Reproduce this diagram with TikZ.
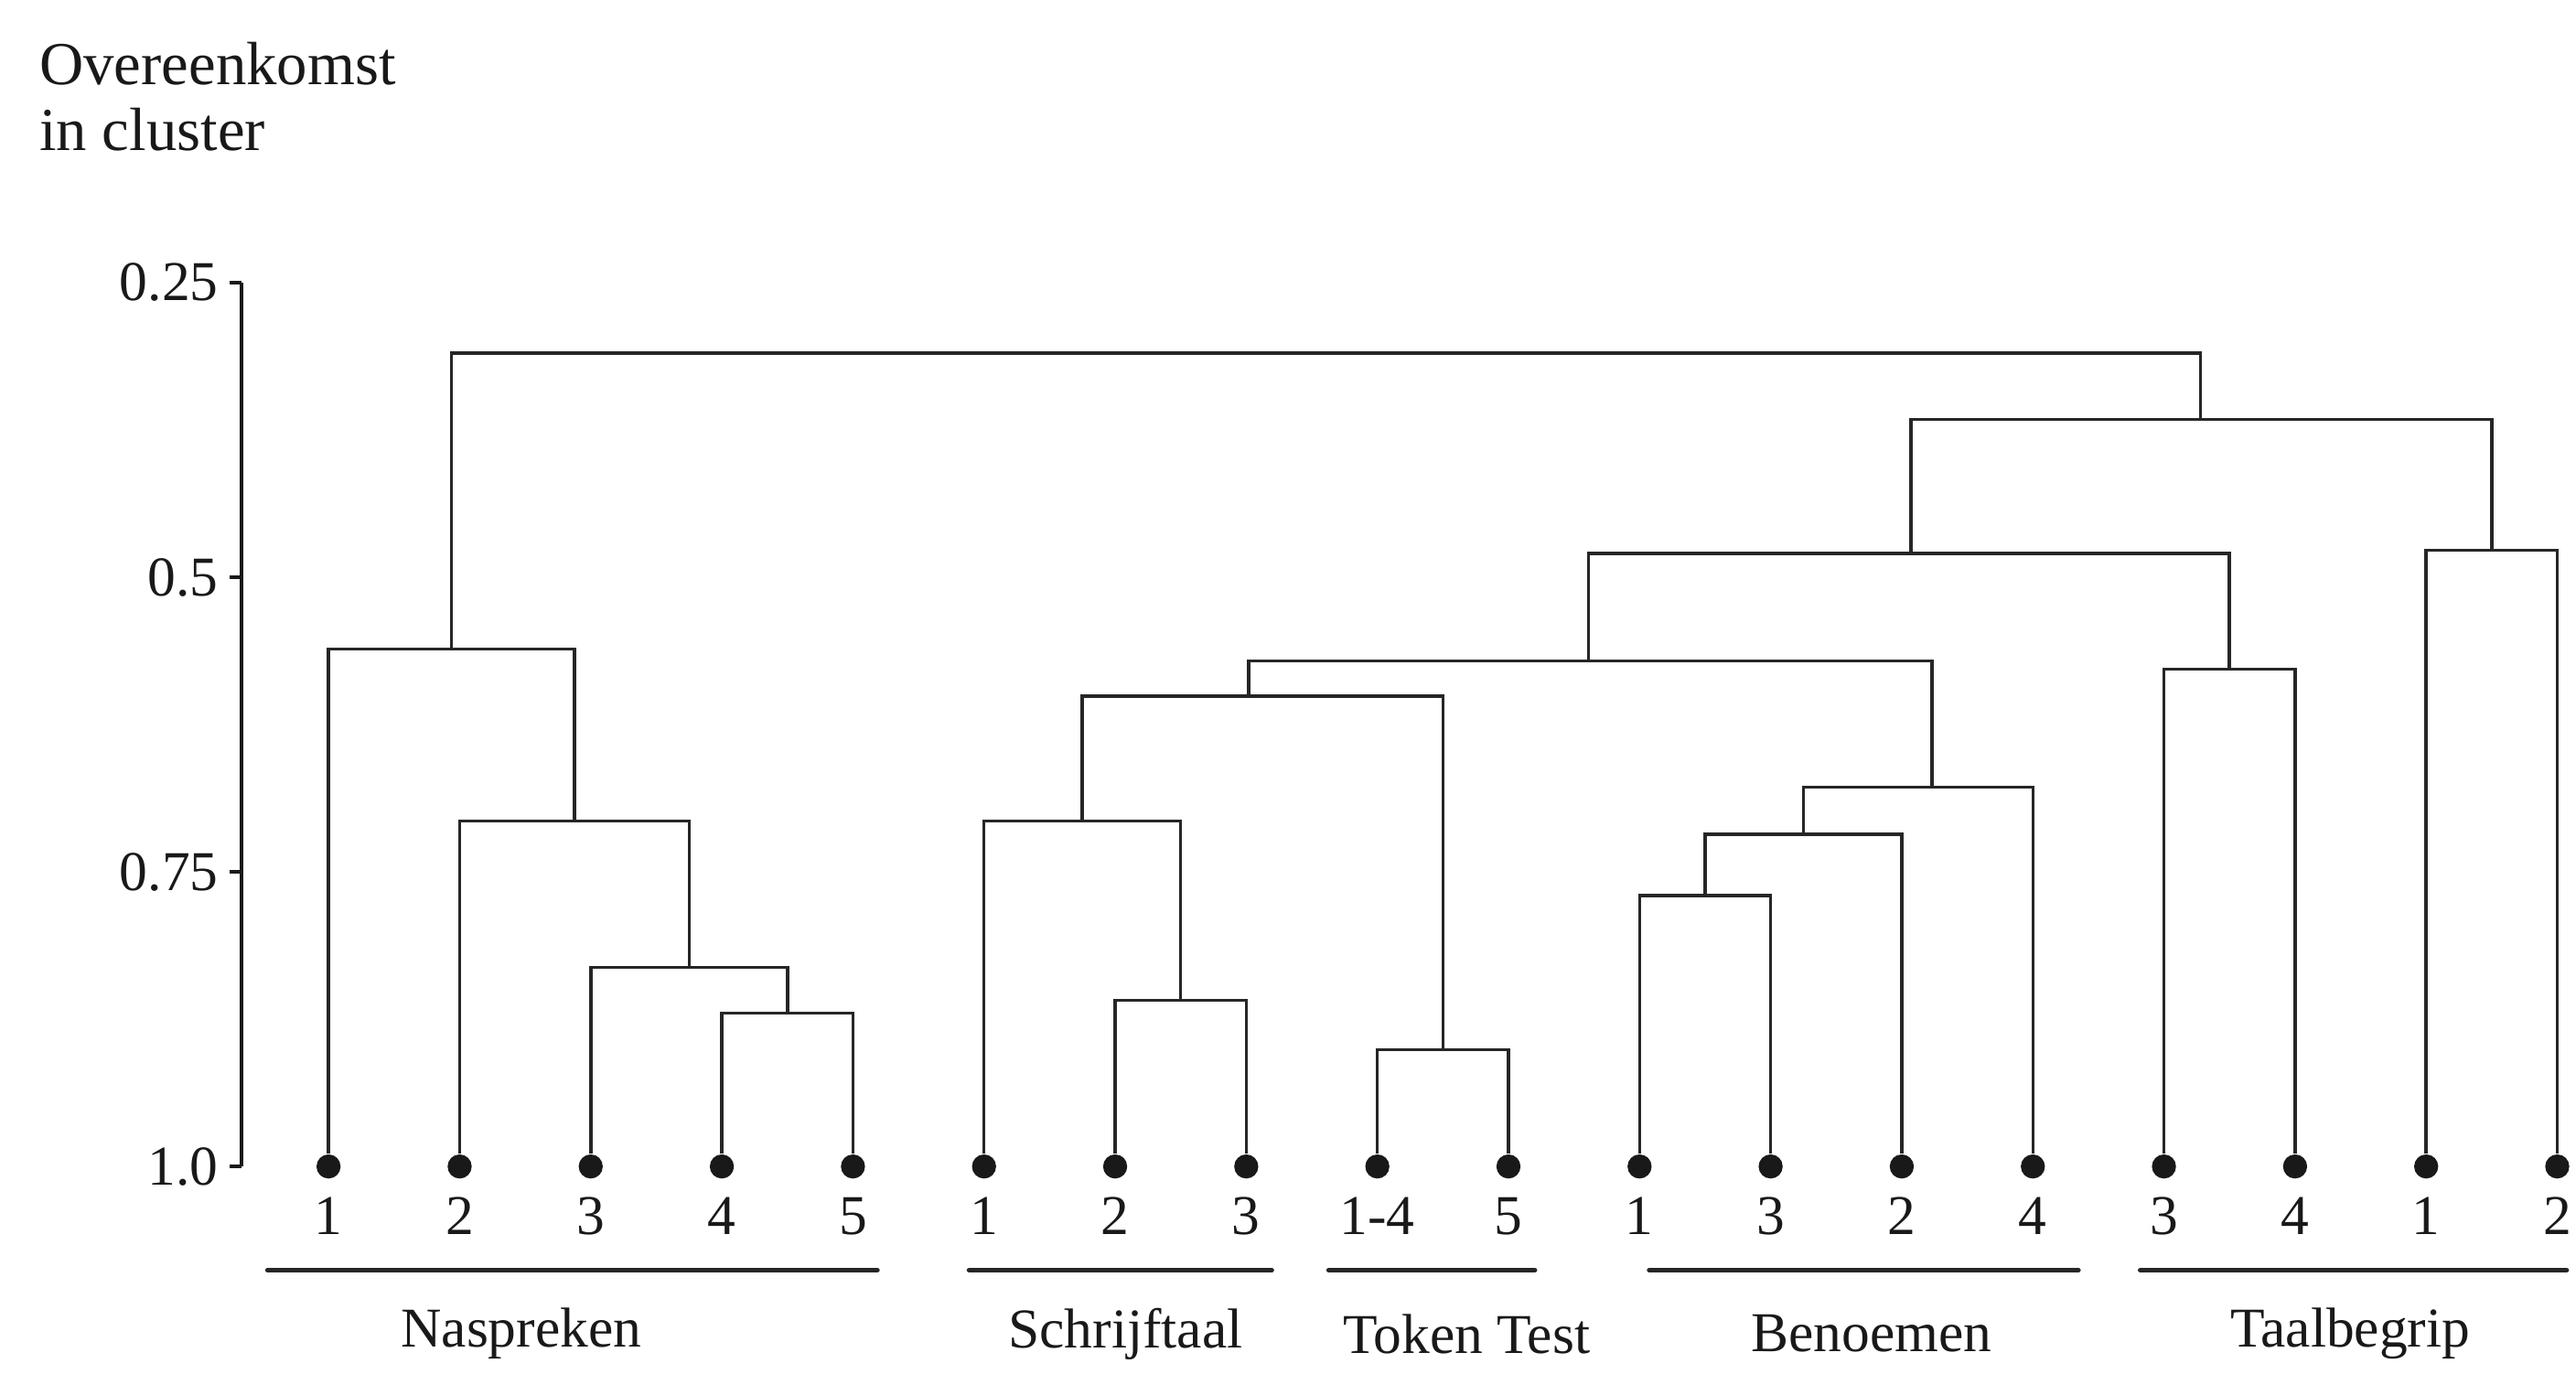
\documentclass[tikz,border=0pt]{standalone}
\usepackage{fontspec}
\setmainfont{Liberation Serif}
\begin{document}
\begin{tikzpicture}[x=1.4332cm,y=-12.883cm]
        \tikzset{
          leaf/.style={circle,fill=black!90,inner sep=0pt,minimum size=7.5pt},
          branch/.style={black!85,line width=1pt},
          lab/.style={font=\fontsize{17.5}{20}\selectfont,text=black!90},
          groupline/.style={black!85,line width=1.6pt,line cap=round},
        }
        \useasboundingbox (-2.506,0.0102) rectangle (17.143,1.1756);

        %TITLE
        \node[anchor=west,align=left,font=\fontsize{19}{20.5}\selectfont,text=black!90] (title) at (-2.29,0.092) {Overeenkomst\\in cluster};

        %AXIS Y
        \draw[black!90,line width=1.1pt] (-0.664,0.25) -- (-0.664,1.0);
        \foreach \v in {0.25,0.5,0.75,1.0}
          \draw[black!90,line width=1.1pt] (-0.664,\v) -- ++(-0.09,0) node[lab,anchor=east,inner sep=3pt] (tick\v) {\v};

        %LEAVES
        \node[leaf] (na1) at (0,1) {};
        \node[leaf] (na2) at (1,1) {};
        \node[leaf] (na3) at (2,1) {};
        \node[leaf] (na4) at (3,1) {};
        \node[leaf] (na5) at (4,1) {};
        \node[leaf] (sc1) at (5,1) {};
        \node[leaf] (sc2) at (6,1) {};
        \node[leaf] (sc3) at (7,1) {};
        \node[leaf] (tt14) at (8,1) {};
        \node[leaf] (tt5) at (9,1) {};
        \node[leaf] (be1) at (10,1) {};
        \node[leaf] (be3) at (11,1) {};
        \node[leaf] (be2) at (12,1) {};
        \node[leaf] (be4) at (13,1) {};
        \node[leaf] (ta3) at (14,1) {};
        \node[leaf] (ta4) at (15,1) {};
        \node[leaf] (ta1) at (16,1) {};
        \node[leaf] (ta2) at (17,1) {};

        %LEAF LABELS
        \node[lab] (lna1) at (0,1.042) {1};
        \node[lab] (lna2) at (1,1.042) {2};
        \node[lab] (lna3) at (2,1.042) {3};
        \node[lab] (lna4) at (3,1.042) {4};
        \node[lab] (lna5) at (4,1.042) {5};
        \node[lab] (lsc1) at (5,1.042) {1};
        \node[lab] (lsc2) at (6,1.042) {2};
        \node[lab] (lsc3) at (7,1.042) {3};
        \node[lab] (ltt14) at (8,1.042) {1-4};
        \node[lab] (ltt5) at (9,1.042) {5};
        \node[lab] (lbe1) at (10,1.042) {1};
        \node[lab] (lbe3) at (11,1.042) {3};
        \node[lab] (lbe2) at (12,1.042) {2};
        \node[lab] (lbe4) at (13,1.042) {4};
        \node[lab] (lta3) at (14,1.042) {3};
        \node[lab] (lta4) at (15,1.042) {4};
        \node[lab] (lta1) at (16,1.042) {1};
        \node[lab] (lta2) at (17,1.042) {2};

        %MERGES
        \coordinate (na45) at (3.5,0.870);
        \coordinate (na345) at (2.75,0.831);
        \coordinate (na2345) at (1.875,0.707);
        \coordinate (nasp) at (0.9375,0.561);
        \coordinate (sc23) at (6.5,0.859);
        \coordinate (schr) at (5.75,0.707);
        \coordinate (tok) at (8.5,0.901);
        \coordinate (sctt) at (7.02,0.601);
        \coordinate (be13) at (10.5,0.770);
        \coordinate (be132) at (11.25,0.718);
        \coordinate (ben) at (12.23,0.678);
        \coordinate (stb) at (9.61,0.571);
        \coordinate (ta34) at (14.5,0.578);
        \coordinate (ta12) at (16.5,0.477);
        \coordinate (mid) at (12.07,0.480);
        \coordinate (right) at (14.28,0.366);
        \coordinate (top) at (7.61,0.310);

        \draw[branch] (na4) |- (na45) -| (na5);
        \draw[branch] (na3) |- (na345) -| (na45);
        \draw[branch] (na2) |- (na2345) -| (na345);
        \draw[branch] (na1) |- (nasp) -| (na2345);
        \draw[branch] (sc2) |- (sc23) -| (sc3);
        \draw[branch] (sc1) |- (schr) -| (sc23);
        \draw[branch] (tt14) |- (tok) -| (tt5);
        \draw[branch] (schr) |- (sctt) -| (tok);
        \draw[branch] (be1) |- (be13) -| (be3);
        \draw[branch] (be13) |- (be132) -| (be2);
        \draw[branch] (be132) |- (ben) -| (be4);
        \draw[branch] (sctt) |- (stb) -| (ben);
        \draw[branch] (ta3) |- (ta34) -| (ta4);
        \draw[branch] (ta1) |- (ta12) -| (ta2);
        \draw[branch] (stb) |- (mid) -| (ta34);
        \draw[branch] (mid) |- (right) -| (ta12);
        \draw[branch] (nasp) |- (top) -| (right);

        %GROUPS
        \coordinate (gna-l) at (-0.464,1.088); \coordinate (gna-r) at (4.185,1.088);
        \coordinate (gsc-l) at (4.887,1.088); \coordinate (gsc-r) at (7.193,1.088);
        \coordinate (gtt-l) at (7.63,1.088); \coordinate (gtt-r) at (9.2,1.088);
        \coordinate (gbe-l) at (10.075,1.088); \coordinate (gbe-r) at (13.346,1.088);
        \coordinate (gta-l) at (13.82,1.088); \coordinate (gta-r) at (17.07,1.088);
        \draw[groupline] (gna-l) -- (gna-r);
        \draw[groupline] (gsc-l) -- (gsc-r);
        \draw[groupline] (gtt-l) -- (gtt-r);
        \draw[groupline] (gbe-l) -- (gbe-r);
        \draw[groupline] (gta-l) -- (gta-r);
        \node[lab] (naspreken) at (1.47,1.142) {Naspreken};
        \node[lab] (schrijftaal) at (6.08,1.142) {Schrijftaal};
        \node[lab] (tokentest) at (8.68,1.142) {Token Test};
        \node[lab] (benoemen) at (11.77,1.142) {Benoemen};
        \node[lab] (taalbegrip) at (15.42,1.142) {Taalbegrip};
    \end{tikzpicture}
\end{document}
